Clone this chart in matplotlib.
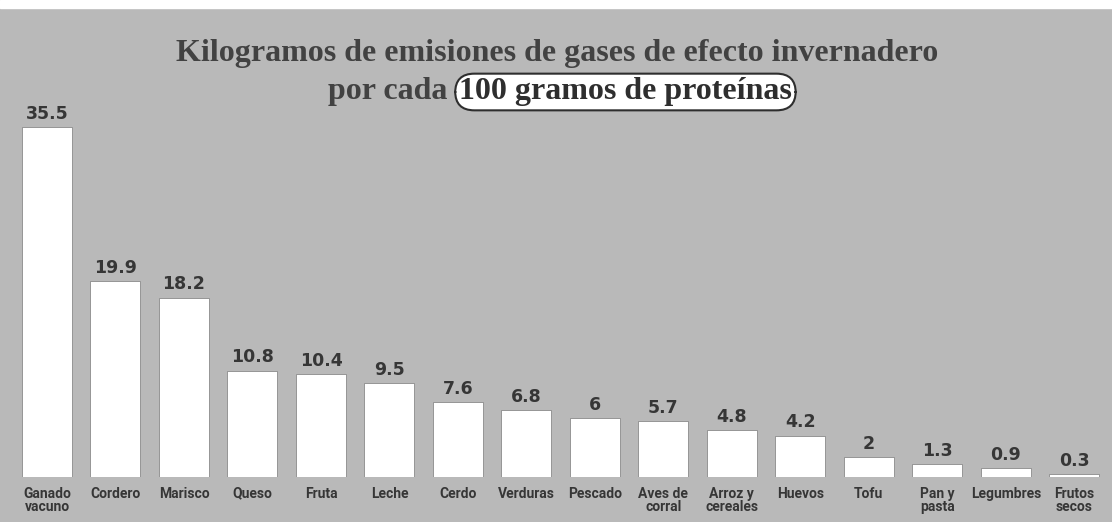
import matplotlib.pyplot as plt

# datos
alimentos = ["Ganado\nvacuno", "Cordero", "Marisco", "Queso", "Fruta", "Leche",
             "Cerdo", "Verduras", "Pescado", "Aves de\ncorral", "Arroz y\ncereales",
             "Huevos", "Tofu", "Pan y\npasta", "Legumbres", "Frutos\nsecos"]
emisiones = [35.5, 19.9, 18.2, 10.8, 10.4, 9.5, 7.6, 6.8, 6, 5.7, 4.8, 4.2, 2, 1.3, 0.9, 0.3]
etiquetas = ["35.5", "19.9", "18.2", "10.8", "10.4", "9.5", "7.6", "6.8", "6", "5.7",
             "4.8", "4.2", "2", "1.3", "0.9", "0.3"]

W, H = 1112, 522
fondo = "#b9b9b9"
gris = "#363636"

fig = plt.figure(figsize=(W / 100, H / 100), dpi=100)
fig.patch.set_facecolor(fondo)

# eje: base en y=477 px, 35.5 en y=127 px
ax = fig.add_axes([0, 45 / H, 1, 385 / H])
ax.set_facecolor(fondo)
x = list(range(len(alimentos)))
ax.bar(x, emisiones, width=0.73, color="white", edgecolor="#8a8a8a", linewidth=0.6)
ax.set_xlim(-0.686, 15.55)
ax.set_ylim(0, 385 / 9.86)
for s in ax.spines.values():
    s.set_visible(False)
ax.set_yticks([])
ax.set_xticks([])

for xi, v, t in zip(x, emisiones, etiquetas):
    ax.annotate(t, (xi, v), xytext=(0, 3), textcoords="offset points",
                ha="center", va="bottom", fontsize=12.5, fontweight="bold",
                color=gris, family="DejaVu Sans")

for xi, nombre in zip(x, alimentos):
    ax.annotate(nombre, (xi, 0), xytext=(0, -7), textcoords="offset points",
                ha="center", va="top", fontsize=10, fontweight="bold",
                color=gris, family="Roboto", linespacing=0.9,
                annotation_clip=False)

# franja blanca superior (borde del escaneo)
fig.patches.append(plt.Rectangle((0, 1 - 8 / H), 1, 8 / H, transform=fig.transFigure,
                                 color="white", zorder=0))

fig.text(557 / W, 1 - 54 / H, "Kilogramos de emisiones de gases de efecto invernadero",
         ha="center", va="center", fontsize=23, fontweight="bold",
         family="Liberation Serif", color="#424242")
fig.text(447 / W, 1 - 92 / H, "por cada", ha="right", va="center", fontsize=23,
         fontweight="bold", family="Liberation Serif", color="#424242")
fig.text(459 / W, 1 - 92 / H, "100 gramos de proteínas", ha="left", va="center",
         fontsize=23, fontweight="bold", family="Liberation Serif", color="#2e2e2e",
         bbox=dict(boxstyle="round,pad=0.12,rounding_size=0.6", facecolor="white",
                   edgecolor="#2e2e2e", linewidth=1.5))

fig.savefig("out.png", dpi=100, facecolor=fondo)
